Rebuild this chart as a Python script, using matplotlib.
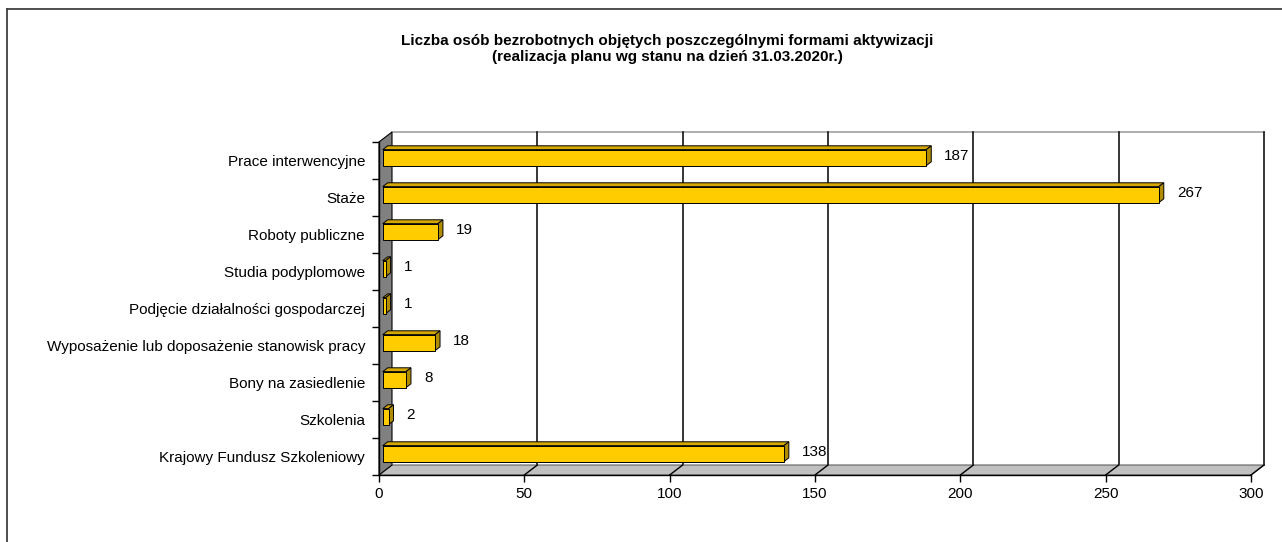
import matplotlib
matplotlib.use("Agg")
import matplotlib.pyplot as plt
from matplotlib.patches import Polygon, Rectangle
from matplotlib.lines import Line2D

plt.rcParams['font.family'] = ['Liberation Sans', 'DejaVu Sans']

# === dane ===
categories = [
    "Prace interwencyjne",
    "Staże",
    "Roboty publiczne",
    "Studia podyplomowe",
    "Podjęcie działalności gospodarczej",
    "Wyposażenie lub doposażenie stanowisk pracy",
    "Bony na zasiedlenie",
    "Szkolenia",
    "Krajowy Fundusz Szkoleniowy",
]
values = [187, 267, 19, 1, 1, 18, 8, 2, 138]
x_ticks = [0, 50, 100, 150, 200, 250, 300]
title = ("Liczba osób bezrobotnych objętych poszczególnymi formami aktywizacji\n"
         "(realizacja planu wg stanu na dzień 31.03.2020r.)")

W, H = 1282, 542
fig = plt.figure(figsize=(W / 100, H / 100), dpi=100)

# ramka wykresu
fig.add_artist(Line2D([7 / W, 7 / W], [0, 1 - 9 / H], color="#404040", lw=1.3))
fig.add_artist(Line2D([7 / W, 1], [1 - 9 / H, 1 - 9 / H], color="#404040", lw=1.3))

fig.text(667 / W, 1 - 49 / H, title, ha="center", va="center",
         fontsize=11, fontweight="bold", linespacing=1.2)

# przednia płaszczyzna osi: x 379..1251, y 142..475 px
left, right, top, bottom = 379, 1251, 142, 475
ax = fig.add_axes([left / W, 1 - bottom / H, (right - left) / W, (bottom - top) / H])
xmax = 300
n = len(categories)
ax.set_xlim(0, xmax)
ax.set_ylim(-0.5, n - 0.5)
ax.set_facecolor("none")
for s in ax.spines.values():
    s.set_visible(False)

ux = xmax / (right - left)   # jednostki na piksel
uy = n / (bottom - top)
Dx, Dy = 13 * ux, 10 * uy    # wektor głębi
y0, y1 = -0.5, n - 0.5

# tylna ściana
ax.add_patch(Polygon([(Dx, y0 + Dy), (xmax + Dx, y0 + Dy), (xmax + Dx, y1 + Dy), (Dx, y1 + Dy)],
                     closed=True, fc="white", ec="none", clip_on=False, zorder=0))
ax.add_line(Line2D([Dx, xmax + Dx], [y1 + Dy, y1 + Dy], color="#a0a0a0", lw=1.2, clip_on=False, zorder=1))
for v in x_ticks[1:]:
    ax.add_line(Line2D([v + Dx, v + Dx], [y0 + Dy, y1 + Dy], color="black", lw=1.1, clip_on=False, zorder=1))

# podłoga
ax.add_patch(Polygon([(0, y0), (xmax, y0), (xmax + Dx, y0 + Dy), (Dx, y0 + Dy)],
                     closed=True, fc="#c0c0c0", ec="#606060", lw=0.8, clip_on=False, zorder=2))
for v in x_ticks[1:]:
    ax.add_line(Line2D([v, v + Dx], [y0, y0 + Dy], color="black", lw=1.0, clip_on=False, zorder=2))

# lewa ściana
ax.add_patch(Polygon([(0, y0), (0, y1), (Dx, y1 + Dy), (Dx, y0 + Dy)],
                     closed=True, fc="#808080", ec="black", lw=0.8, clip_on=False, zorder=2))

# słupki 3D
f0 = 0.285          # głębokość przedniej ściany słupka
fd = 0.385          # grubość słupka w głąb
bh = 16 * uy        # wysokość słupka
for i, (cat, v) in enumerate(zip(categories, values)):
    yc = n - 1 - i
    fx = f0 * Dx
    fy = yc + f0 * Dy
    ddx, ddy = fd * Dx, fd * Dy
    ya, yb = fy - bh / 2, fy + bh / 2
    # góra
    ax.add_patch(Polygon([(fx, yb), (fx + v, yb), (fx + v + ddx, yb + ddy), (fx + ddx, yb + ddy)],
                         closed=True, fc="#d4a800", ec="black", lw=0.7, clip_on=False, zorder=3))
    # bok
    ax.add_patch(Polygon([(fx + v, ya), (fx + v + ddx, ya + ddy), (fx + v + ddx, yb + ddy), (fx + v, yb)],
                         closed=True, fc="#b08c00", ec="black", lw=0.7, clip_on=False, zorder=3))
    # front
    ax.add_patch(Rectangle((fx, ya), v, bh, fc="#ffcc00", ec="black", lw=0.7, clip_on=False, zorder=4))
    ax.text(fx + v + 18 * ux, fy + 2 * uy, str(v), ha="left", va="center", fontsize=11, zorder=5)

# osie
ax.add_line(Line2D([0, 0], [y0, y1], color="black", lw=1.0, clip_on=False, zorder=3))
ax.add_line(Line2D([0, xmax], [y0, y0], color="black", lw=1.0, clip_on=False, zorder=3))

ax.set_xticks(x_ticks)
ax.set_xticklabels([str(t) for t in x_ticks])
ax.tick_params(axis="x", length=5, width=1, pad=4, labelsize=11, color="black")

ax.set_yticks([k - 0.5 for k in range(n + 1)])
ax.set_yticklabels([])
ax.set_yticks(list(range(n)), minor=True)
ax.set_yticklabels(categories[::-1], minor=True)
ax.tick_params(axis="y", which="major", length=5, width=1, color="black")
ax.tick_params(axis="y", which="minor", length=0, pad=10, labelsize=11)

fig.savefig("out.png", dpi=100, facecolor="white")
